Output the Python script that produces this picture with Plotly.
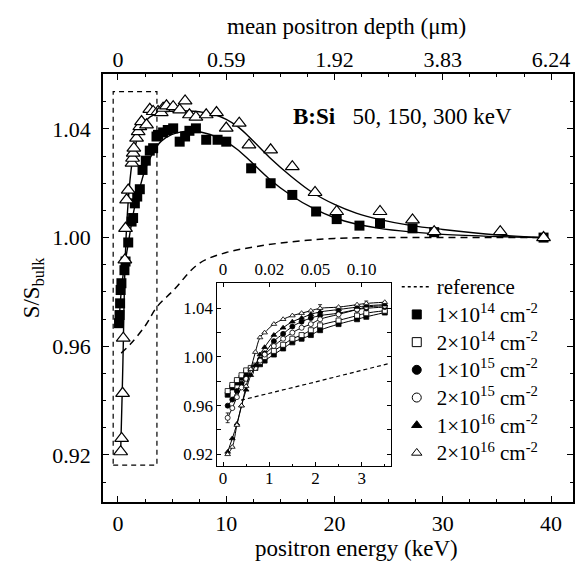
import plotly.graph_objects as go

FONT = "Liberation Serif"

# ---------------- main plot data (positron energy in keV, S/S_bulk) ----------------
sq_E = [0.1, 0.15, 0.2, 0.25, 0.32, 0.6, 0.7, 0.95, 1.26, 1.4, 1.56, 1.78, 2.02, 2.27, 2.57,
        2.94, 3.25, 3.56, 3.7, 4.17, 4.6, 5.1, 5.7, 6.2, 6.6, 7.2, 8.15, 9.2, 10.0, 12.3,
        14.1, 16.1, 18.3, 20.2, 22.3, 24.2, 27.2, 29.2, 39.3]
sq_S = [0.9685, 0.9715, 0.9758, 0.9807, 0.9832, 0.988, 0.9912, 0.9982, 1.0059, 1.0072,
        1.0126, 1.0151, 1.0178, 1.0249, 1.0283, 1.032, 1.0329, 1.0372, 1.0378, 1.0387,
        1.0396, 1.0402, 1.0353, 1.0372, 1.0393, 1.0402, 1.036, 1.036, 1.0353, 1.0255,
        1.02, 1.0157, 1.0096, 1.0068, 1.0044, 1.0053, 1.0034, 1.002, 1.0]

tr_E = [0.25, 0.34, 0.43, 0.49, 0.64, 0.7, 0.8, 0.95, 1.3, 1.35, 1.41, 1.47, 1.72, 1.87,
        2.02, 2.18, 2.64, 2.94, 3.25, 3.7, 4.0, 4.17, 4.48, 5.1, 5.7, 6.2, 6.6, 7.2, 8.15,
        9.1, 10.0, 11.2, 12.1, 14.1, 16.1, 18.2, 20.2, 24.2, 27.2, 29.2, 35.3, 39.3]
tr_S = [0.9212, 0.9261, 0.9427, 0.963, 0.9918, 1.0034, 1.0139, 1.0175, 1.0274, 1.0292,
        1.0311, 1.0329, 1.0366, 1.039, 1.0408, 1.0427, 1.0415, 1.0472, 1.0464, 1.0464,
        1.046, 1.0476, 1.0485, 1.0482, 1.047, 1.0503, 1.0452, 1.0443, 1.0452, 1.046,
        1.0403, 1.0421, 1.0341, 1.0323, 1.0261, 1.0166, 1.0096, 1.0096, 1.0065, 1.0022,
        1.0022, 1.0]

sq_fit_E = [0.1, 0.3, 0.5, 0.75, 1.0, 1.5, 2.0, 2.5, 3.0, 3.5, 4.0, 5.0, 6.0, 7.0, 8.0,
            9.0, 10.0, 11.0, 12.0, 14.0, 16.0, 18.0, 20.0, 22.0, 24.0, 27.0, 30.0, 35.0, 39.3]
sq_fit_S = [0.969, 0.980, 0.987, 0.993, 0.999, 1.0105, 1.018, 1.025, 1.0295, 1.033, 1.0355,
            1.038, 1.039, 1.0392, 1.0385, 1.0372, 1.0352, 1.0325, 1.029, 1.0215, 1.0155,
            1.0108, 1.0073, 1.005, 1.0035, 1.0021, 1.0012, 1.0004, 1.0]

tr_fit_E = [0.25, 0.4, 0.5, 0.6, 0.75, 1.0, 1.25, 1.5, 2.0, 2.5, 3.0, 4.0, 5.0, 6.0, 7.0,
            8.0, 9.0, 10.0, 11.0, 12.0, 14.0, 16.0, 18.0, 20.0, 22.0, 24.0, 27.0, 30.0, 35.0, 39.3]
tr_fit_S = [0.921, 0.944, 0.962, 0.982, 1.000, 1.016, 1.026, 1.032, 1.039, 1.0425, 1.0445,
            1.046, 1.0465, 1.0467, 1.0465, 1.046, 1.0452, 1.0435, 1.041, 1.0375, 1.0295,
            1.0225, 1.0165, 1.0122, 1.009, 1.0068, 1.0045, 1.003, 1.001, 1.0]

ref_E = [0.3, 1.2, 2.6, 3.6, 5.1, 7.5, 10.0, 12.5, 15.0, 17.5, 20.0, 25.0, 30.0, 35.0, 39.3]
ref_S = [0.9575, 0.961, 0.968, 0.9745, 0.9805, 0.9905, 0.9945, 0.9965, 0.998, 0.999,
         0.9997, 1.0, 1.0, 1.0, 1.0]

top_tick_E = [0, 10, 20, 30, 40]
top_tick_text = ["0", "0.59", "1.92", "3.83", "6.24"]

# ---------------- inset data ----------------
in_E = [0.1, 0.2, 0.3, 0.4, 0.5, 0.6, 0.7, 0.8, 0.9, 1.1, 1.3, 1.5, 1.7, 1.9, 2.1, 2.5, 2.9, 3.1, 3.5]
in_1e14 = [0.969, 0.975, 0.979, 0.983, 0.987, 0.989, 0.991, 0.994, 0.997, 1.002, 1.007, 1.012,
           1.015, 1.018, 1.022, 1.027, 1.031, 1.033, 1.0365]
in_2e14 = [0.972, 0.977, 0.981, 0.985, 0.989, 0.991, 0.993, 0.996, 1.000, 1.005, 1.010, 1.015,
           1.018, 1.022, 1.026, 1.030, 1.034, 1.036, 1.038]
in_1e15 = [0.960, 0.965, 0.972, 0.978, 0.984, 0.988, 0.992, 0.998, 1.003, 1.013, 1.019, 1.025,
           1.029, 1.032, 1.034, 1.036, 1.039, 1.040, 1.041]
in_2e15 = [0.950, 0.958, 0.967, 0.975, 0.982, 0.987, 0.991, 0.997, 1.002, 1.009, 1.015, 1.020,
           1.024, 1.027, 1.031, 1.035, 1.039, 1.041, 1.042]
in_2e15_err = [0.004, 0, 0, 0, 0, 0, 0, 0, 0, 0, 0, 0, 0, 0, 0, 0, 0.002, 0, 0]
in_1e16 = [0.922, 0.933, 0.945, 0.960, 0.973, 0.985, 0.993, 1.002, 1.008, 1.018, 1.024, 1.029,
           1.032, 1.035, 1.037, 1.039, 1.041, 1.042, 1.043]
in_2e16 = [0.920, 0.926, 0.944, 0.960, 0.976, 0.990, 1.004, 1.016, 1.020, 1.027, 1.031, 1.034,
           1.036, 1.038, 1.040, 1.041, 1.043, 1.044, 1.045]
in_2e16_err = [0, 0, 0, 0, 0, 0, 0, 0, 0, 0, 0, 0, 0, 0, 0.003, 0, 0, 0.002, 0]

in_ref_E = [0.39, 1.0, 2.0, 3.0, 3.6]
in_ref_S = [0.9645, 0.970, 0.9795, 0.989, 0.9947]

in_top_E = [0, 1, 2, 3]
in_top_text = ["0", "0.02", "0.05", "0.10"]

legend_names = ["1×10<sup>14</sup> cm<sup>-2</sup>", "2×10<sup>14</sup> cm<sup>-2</sup>",
                "1×10<sup>15</sup> cm<sup>-2</sup>", "2×10<sup>15</sup> cm<sup>-2</sup>",
                "1×10<sup>16</sup> cm<sup>-2</sup>", "2×10<sup>16</sup> cm<sup>-2</sup>"]

LEG_SPAN = '<span style="font-size:21px">{}</span>'

fig = go.Figure()

# ---- main plot ----
fig.add_trace(go.Scatter(x=ref_E, y=ref_S, xaxis="x2", yaxis="y", mode="lines",
                         line=dict(color="black", width=1.5, dash="7px,5px", shape="spline"),
                         showlegend=False, hoverinfo="skip"))
fig.add_trace(go.Scatter(x=sq_fit_E, y=sq_fit_S, mode="lines",
                         line=dict(color="black", width=1.4, shape="spline"), showlegend=False))
fig.add_trace(go.Scatter(x=tr_fit_E, y=tr_fit_S, mode="lines",
                         line=dict(color="black", width=1.4, shape="spline"), showlegend=False))
fig.add_trace(go.Scatter(x=sq_E, y=sq_S, mode="markers",
                         marker=dict(symbol="square", size=10, color="black"), showlegend=False))
fig.add_trace(go.Scatter(x=tr_E, y=tr_S, mode="markers",
                         marker=dict(symbol="triangle-up", size=12, color="white",
                                     line=dict(color="black", width=1.2)), showlegend=False))

# ---- inset ----
fig.add_trace(go.Scatter(x=in_ref_E, y=in_ref_S, xaxis="x4", yaxis="y3", mode="lines",
                         line=dict(color="black", width=1.2, dash="4px,3px"), showlegend=False))

inset_series = [
    (in_1e14, "square", "black", None),
    (in_2e14, "square", "white", None),
    (in_1e15, "circle", "black", None),
    (in_2e15, "circle", "white", in_2e15_err),
    (in_1e16, "triangle-up", "black", None),
    (in_2e16, "triangle-up", "white", in_2e16_err),
]
for vals, sym, fill, err in inset_series:
    tr = dict(x=in_E, y=vals, xaxis="x3", yaxis="y3", mode="lines+markers",
              line=dict(color="black", width=1.0, shape="spline"),
              marker=dict(symbol=sym, size=5, color=fill, line=dict(color="black", width=0.8)),
              showlegend=False)
    if err is not None:
        tr["error_y"] = dict(type="data", array=err, visible=True, color="black",
                             thickness=0.8, width=2)
    fig.add_trace(go.Scatter(**tr))

# ---- legend entries ----
fig.add_trace(go.Scatter(x=[None], y=[None], mode="lines", name=LEG_SPAN.format("reference"),
                         line=dict(color="black", width=1.5, dash="3px,3px")))
for (vals, sym, fill, err), nm in zip(inset_series, legend_names):
    fig.add_trace(go.Scatter(x=[None], y=[None], mode="markers", name=LEG_SPAN.format(nm),
                             marker=dict(symbol=sym, size=9, color=fill,
                                         line=dict(color="black", width=1.0))))

axis_common = dict(showline=True, linecolor="black", linewidth=1.5, ticks="inside",
                   tickcolor="black", showgrid=False, zeroline=False,
                   tickfont=dict(family=FONT, size=22, color="black"))
inset_common = dict(showline=True, linecolor="black", linewidth=1.0, ticks="inside",
                    tickcolor="black", showgrid=False, zeroline=False,
                    tickfont=dict(family=FONT, size=17, color="black"))

fig.update_layout(
    width=586, height=568,
    margin=dict(l=103, r=11, t=74, b=66),
    paper_bgcolor="white", plot_bgcolor="white",
    font=dict(family=FONT, size=22, color="black"),
    xaxis=dict(**axis_common, range=[-1.38, 42.02], tickvals=top_tick_E, ticklen=6,
               tickwidth=1.3, ticklabelstandoff=1,
               minor=dict(dtick=2.5, ticks="inside", ticklen=3.5, tickcolor="black"),
               anchor="y"),
    xaxis2=dict(**axis_common, overlaying="x", side="top", matches="x", anchor="y",
                tickvals=top_tick_E, ticktext=top_tick_text, ticklen=6, tickwidth=1.3,
                ticklabelstandoff=-4,
                minor=dict(dtick=2.5, ticks="inside", ticklen=3.5, tickcolor="black")),
    yaxis=dict(**axis_common, range=[0.9027, 1.0602], tickvals=[0.92, 0.96, 1.00, 1.04],
               tickformat=".2f", ticklen=6, tickwidth=1.3, mirror="ticks", ticklabelstandoff=6,
               minor=dict(dtick=0.01, ticks="inside", ticklen=3.5, tickcolor="black"),
               title=dict(text="S/S<sub>bulk</sub>", font=dict(family=FONT, size=23), standoff=6),
               anchor="x"),
    xaxis3=dict(**inset_common, domain=[0.2436, 0.6123], anchor="y3", range=[-0.12, 3.63],
                tickvals=[0, 1, 2, 3], ticklen=4, ticklabelstandoff=-3,
                minor=dict(dtick=0.5, ticks="inside", ticklen=2.5, tickcolor="black")),
    xaxis4=dict(**inset_common, overlaying="x3", matches="x3", side="top", anchor="y3",
                tickvals=in_top_E, ticktext=in_top_text, ticklen=4),
    yaxis3=dict(**inset_common, domain=[0.0841, 0.5117], anchor="x3", range=[0.9104, 1.0608],
                tickvals=[0.92, 0.96, 1.00, 1.04], tickformat=".2f", ticklen=4, mirror="ticks",
                minor=dict(dtick=0.02, ticks="inside", ticklen=4, tickcolor="black")),
    legend=dict(x=0.625, y=0.547, xanchor="left", yanchor="top", bgcolor="rgba(0,0,0,0)",
                font=dict(family=FONT, size=19, color="black"), tracegroupgap=0,
                itemwidth=30),
    showlegend=True,
    shapes=[dict(type="rect", xref="x", yref="y", x0=-0.44, x1=3.6, y0=0.9163, y1=1.0537,
                 line=dict(color="black", width=1.2, dash="5px,4px"), layer="above")],
    annotations=[
        dict(x=16.0, y=1.0444, xref="x", yref="y", xanchor="left", yanchor="middle",
             showarrow=False, text="<b>B:Si</b>\u00a0\u00a0\u00a050, 150, 300 keV",
             font=dict(family=FONT, size=23, color="black")),
        dict(x=0.540, y=-0.1075, xref="paper", yref="paper", xanchor="center", yanchor="middle",
             showarrow=False, text="positron energy (keV)",
             font=dict(family=FONT, size=23, color="black")),
        dict(x=0.518, y=1.112, xref="paper", yref="paper", xanchor="center", yanchor="middle",
             showarrow=False, text="mean positron depth (μm)",
             font=dict(family=FONT, size=23, color="black")),
    ],
)

fig.write_html("out.html")
